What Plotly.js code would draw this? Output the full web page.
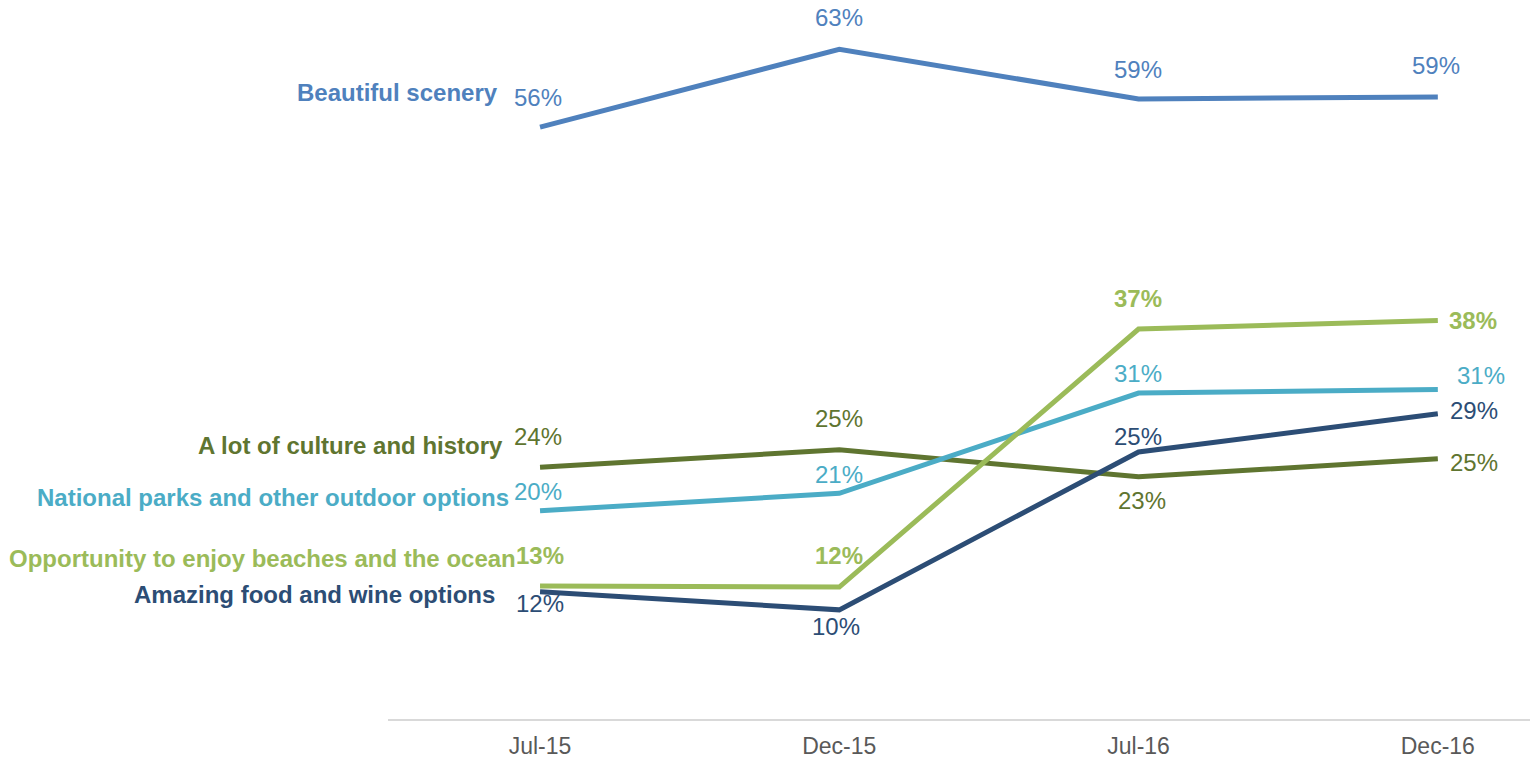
<!DOCTYPE html>
<html>
<head>
<meta charset="utf-8">
<script src="https://cdn.plot.ly/plotly-3.0.1.min.js"></script>
<style>html,body{margin:0;padding:0;background:#fff;}#chart{width:1530px;height:758px;}</style>
</head>
<body>
<div id="chart"></div>
<script>
// ---- data ----
const periods = ["Jul-15", "Dec-15", "Jul-16", "Dec-16"];
const seriesNames = [
  "Beautiful scenery",
  "A lot of culture and history",
  "National parks and other outdoor options",
  "Opportunity to enjoy beaches and the ocean",
  "Amazing food and wine options"
];
const scenery  = [55.85, 63.2, 58.5, 58.7];
const culture  = [23.75, 25.4, 22.85, 24.55];
const parks    = [19.65, 21.3, 30.75, 31.1];
const beaches  = [12.55, 12.45, 36.8, 37.6];
const food     = [12.0, 10.3, 25.2, 28.8];
const sceneryLabels = [56, 63, 59, 59];
const cultureLabels = [24, 25, 23, 25];
const parksLabels   = [20, 21, 31, 31];
const beachesLabels = [13, 12, 37, 38];
const foodLabels    = [12, 10, 25, 29];

// ---- styles ----
const values = [scenery, culture, parks, beaches, food];
const labels = [sceneryLabels, cultureLabels, parksLabels, beachesLabels, foodLabels];
const colors = ["#4F81BD", "#5F7530", "#4BACC6", "#9BBB59", "#2C4D75"];
const boldLabels = [false, false, false, true, false];
// label offsets in px [dx, dy(up positive)] per point
const labelOffsets = [
  [[-2, 30], [0, 32], [-1, 30], [-2, 31]],
  [[-2, 31], [0, 31], [3, -24], [36, -4]],
  [[-2, 19], [0, 19], [-1, 20], [43, 14]],
  [[0, 31], [0, 32], [-1, 31], [35, 0]],
  [[0, -12], [-3, -17], [-1, 15], [36, 3]]
];
// series name offsets relative to first point
const nameOffsets = [[-40, 35], [-35, 22], [-29, 13], [-22, 28], [-43, -3]];

const font = "'Liberation Sans', Arial, sans-serif";
const traces = values.map((v, i) => ({
  x: periods, y: v, type: "scatter", mode: "lines",
  line: {color: colors[i], width: 5},
  hoverinfo: "skip", showlegend: false
}));

const annotations = [];
values.forEach((v, i) => {
  v.forEach((val, j) => {
    const txt = labels[i][j] + "%";
    annotations.push({
      x: periods[j], y: val, xref: "x", yref: "y", showarrow: false,
      text: boldLabels[i] ? "<b>" + txt + "</b>" : txt,
      xanchor: "center", yanchor: "middle",
      xshift: labelOffsets[i][j][0], yshift: labelOffsets[i][j][1],
      font: {family: font, size: 24, color: colors[i]}
    });
  });
  annotations.push({
    x: periods[0], y: v[0], xref: "x", yref: "y", showarrow: false,
    text: "<b>" + seriesNames[i] + "</b>",
    xanchor: "right", yanchor: "middle",
    xshift: nameOffsets[i][0], yshift: nameOffsets[i][1],
    font: {family: font, size: 24, color: colors[i]}
  });
});

const layout = {
  width: 1530, height: 758,
  margin: {l: 388, r: 0, t: 10, b: 39},
  paper_bgcolor: "#fff", plot_bgcolor: "#fff",
  xaxis: {
    type: "category", range: [-0.508, 3.308],
    showgrid: false, zeroline: false,
    showline: true, linecolor: "#D9D9D9", linewidth: 2,
    ticks: "", ticklabelstandoff: 5,
    tickfont: {family: font, size: 23, color: "#595959"},
    fixedrange: true
  },
  yaxis: {
    range: [0, 66.9], visible: false, fixedrange: true
  },
  annotations: annotations
};

Plotly.newPlot("chart", traces, layout, {displayModeBar: false, staticPlot: true});
</script>
</body>
</html>
